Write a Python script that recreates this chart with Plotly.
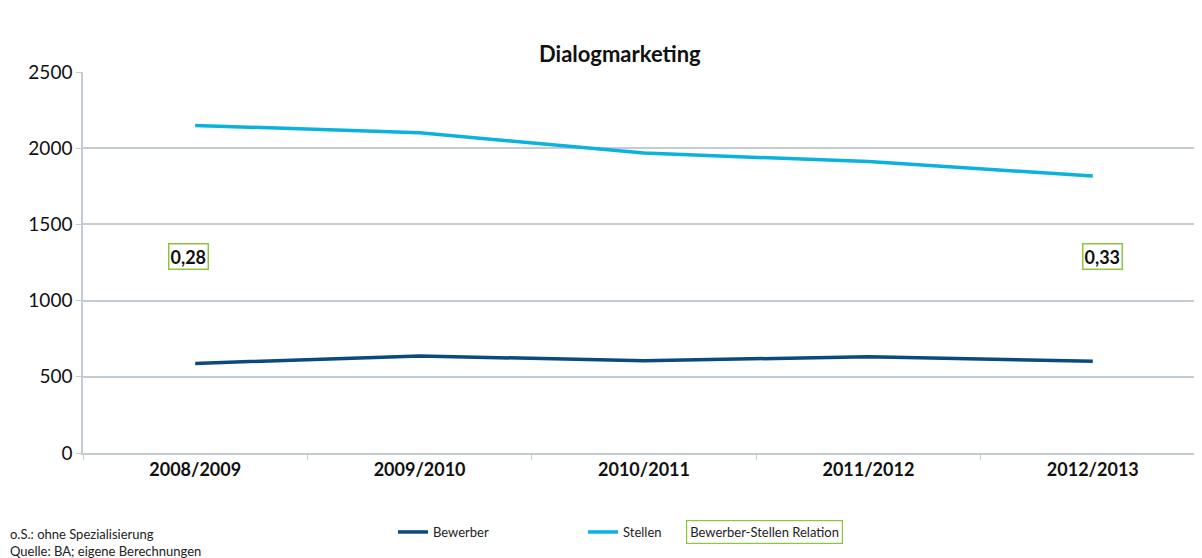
import plotly.graph_objects as go

# Daten
jahre = ['2008/2009', '2009/2010', '2010/2011', '2011/2012', '2012/2013']
bewerber = [588, 637, 605, 632, 602]
stellen = [2149, 2102, 1968, 1912, 1818]
relation_jahre = ['2008/2009', '2012/2013']
relation_werte = ['0,28', '0,33']
relation_y = [1290, 1290]

FONT = 'Lato'
GRID = '#c3ccd2'

# Seite hat 8px Rand -> Figur um 8px versetzt
OFF = 8
W, H = 1202, 558
L, T, R, B = 75, 64, 5, 113
PW, PH = W - L - R, H - T - B


def px_x(px):
    # Seitenpixel -> paper-Koordinate
    return (px - OFF - L) / PW


def px_y(py):
    return (H - B - (py - OFF)) / PH


fig = go.Figure()
fig.add_trace(go.Scatter(
    x=jahre, y=bewerber, mode='lines', name='Bewerber',
    line=dict(color='#0a4a7c', width=3.5)
))
fig.add_trace(go.Scatter(
    x=jahre, y=stellen, mode='lines', name='Stellen',
    line=dict(color='#0bb2dd', width=3.5)
))

for j, w, yy in zip(relation_jahre, relation_werte, relation_y):
    fig.add_annotation(
        x=j, y=yy, text=f'<b>{w}</b>', showarrow=False,
        xshift=-7 if j == relation_jahre[0] else 10,
        font=dict(family=FONT, size=18, color='#111111'),
        bordercolor='#8cc63f', borderwidth=1.5, borderpad=1, bgcolor='white'
    )

fig.add_annotation(
    x=px_x(620), xref='paper', y=px_y(53), yref='paper', yanchor='middle',
    text='<b>Dialogmarketing</b>', showarrow=False,
    font=dict(family=FONT, size=22, color='#111111')
)

# Legendenkasten fuer die Relation
fig.add_annotation(
    x=px_x(686), xref='paper', y=px_y(532), yref='paper', showarrow=False,
    text='Bewerber-Stellen Relation', xanchor='left', yanchor='middle',
    font=dict(family=FONT, size=13, color='#222222'),
    bordercolor='#8cc63f', borderwidth=1.2, borderpad=3
)

# Fussnote
fig.add_annotation(
    x=px_x(8), xref='paper', y=px_y(524), yref='paper', showarrow=False,
    text='o.S.: ohne Spezialisierung<br>Quelle: BA; eigene Berechnungen',
    xanchor='left', yanchor='top', align='left',
    font=dict(family=FONT, size=13, color='#222222')
)

fig.update_layout(
    width=W, height=H,
    margin=dict(l=L, r=R, t=T, b=B),
    paper_bgcolor='white', plot_bgcolor='white',
    font=dict(family=FONT, color='#111111'),
    showlegend=True,
    legend=dict(orientation='h', x=px_x(393), y=px_y(532), xanchor='left', yanchor='middle',
                font=dict(family=FONT, size=13, color='#222222'),
                entrywidth=145, entrywidthmode='pixels'),
    xaxis=dict(
        type='category', range=[-0.5, 4.5],
        showgrid=False, showline=True, linecolor=GRID, linewidth=1.5,
        ticks='outside', tickcolor=GRID, ticklen=5, tickson='boundaries',
        tickfont=dict(family=FONT, size=18, color='#111111'),
        tickprefix='<b>', ticksuffix='</b>'
    ),
    yaxis=dict(
        range=[0, 2500], dtick=500, showgrid=True, gridcolor=GRID, gridwidth=1.5,
        showline=True, linecolor=GRID, linewidth=1.5, zeroline=False,
        ticks='outside', tickcolor=GRID, ticklen=5,
        tickfont=dict(family=FONT, size=19, color='#111111')
    )
)

fig.write_html('out.html')
